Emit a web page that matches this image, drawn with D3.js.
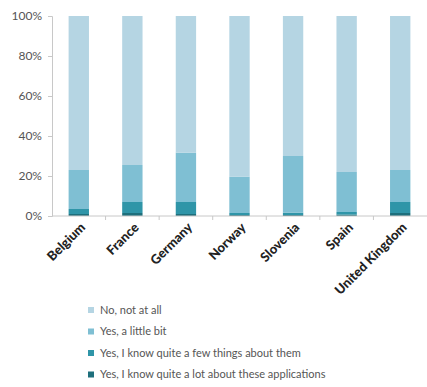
<!DOCTYPE html>
<html><head><meta charset="utf-8">
<script src="https://cdn.jsdelivr.net/npm/d3@7"></script>
<style>body{margin:0;background:#fff}svg{display:block}</style>
</head><body><svg id="c" width="427" height="387"></svg>
<script>
const countries = ["Belgium","France","Germany","Norway","Slovenia","Spain","United Kingdom"];
const seriesNames = ["Yes, I know quite a lot about these applications","Yes, I know quite a few things about them","Yes, a little bit","No, not at all"];
const quiteALot = [1.0,1.5,1.0,0.5,0.5,0.7,1.5];
const quiteAFew = [2.5,5.5,6.0,1.0,1.2,1.3,5.5];
const aLittleBit = [19.5,18.5,24.7,18.2,28.3,20.0,16.0];
const notAtAll = [77.0,74.5,68.3,80.3,70.0,78.0,77.0];
const yTicks = [0,20,40,60,80,100];
const colors = ["#1e6f7c","#2f95a8","#7fbfd3","#b5d5e3"];

const svg = d3.select("#c");
const x = d3.scaleBand().domain(countries).range([52,427]).paddingInner(0.62).paddingOuter(0.31);
const y = d3.scaleLinear().domain([0,100]).range([216,16]);

const rows = countries.map((c,i)=>({country:c, [seriesNames[0]]:quiteALot[i], [seriesNames[1]]:quiteAFew[i], [seriesNames[2]]:aLittleBit[i], [seriesNames[3]]:notAtAll[i]}));
const stack = d3.stack().keys(seriesNames)(rows);

svg.append("g").selectAll("g").data(stack).join("g").attr("fill",(d,i)=>colors[i])
  .selectAll("rect").data(d=>d).join("rect")
  .attr("x",d=>x(d.data.country)).attr("width",x.bandwidth())
  .attr("y",d=>y(d[1])).attr("height",d=>y(d[0])-y(d[1]));

// y axis
const ya = svg.append("g").attr("transform","translate(52,0)").call(d3.axisLeft(y).tickValues(yTicks).tickFormat(d=>d+"%").tickSize(4).tickPadding(6));
ya.select(".domain").attr("stroke","#c8c8c8");
ya.selectAll(".tick line").attr("stroke","#c8c8c8");
ya.selectAll("text").attr("font-family","Lato, sans-serif").attr("font-size","12px").attr("fill","#555");

// x axis
const step = x.step();
const xa = svg.append("g").attr("transform","translate(0,216)");
xa.append("line").attr("x1",52).attr("x2",427).attr("stroke","#c8c8c8");
xa.selectAll("line.t").data(countries.slice(1)).join("line").attr("class","t")
  .attr("x1",d=>x(d)-x.paddingInner()*step/2).attr("x2",d=>x(d)-x.paddingInner()*step/2)
  .attr("y1",0).attr("y2",4).attr("stroke","#c8c8c8");
xa.selectAll("text").data(countries).join("text")
  .attr("transform",d=>`translate(${x(d)+x.bandwidth()/2+4},9) rotate(-45)`)
  .attr("text-anchor","end").attr("dy","0.35em")
  .attr("font-family","Lato, sans-serif").attr("font-weight","900").attr("font-size","13px").attr("fill","#222")
  .text(d=>d);

// legend
const legOrder = [3,2,1,0];
const lg = svg.append("g");
legOrder.forEach((si,k)=>{
  const yy = 310 + k*21.5;
  lg.append("rect").attr("x",88).attr("y",yy-3).attr("width",6).attr("height",6).attr("fill",colors[si]);
  lg.append("text").attr("x",100).attr("y",yy).attr("dy","0.35em")
    .attr("font-family","Lato, sans-serif").attr("font-size","11px").attr("fill","#555").text(seriesNames[si]);
});
</script></body></html>
